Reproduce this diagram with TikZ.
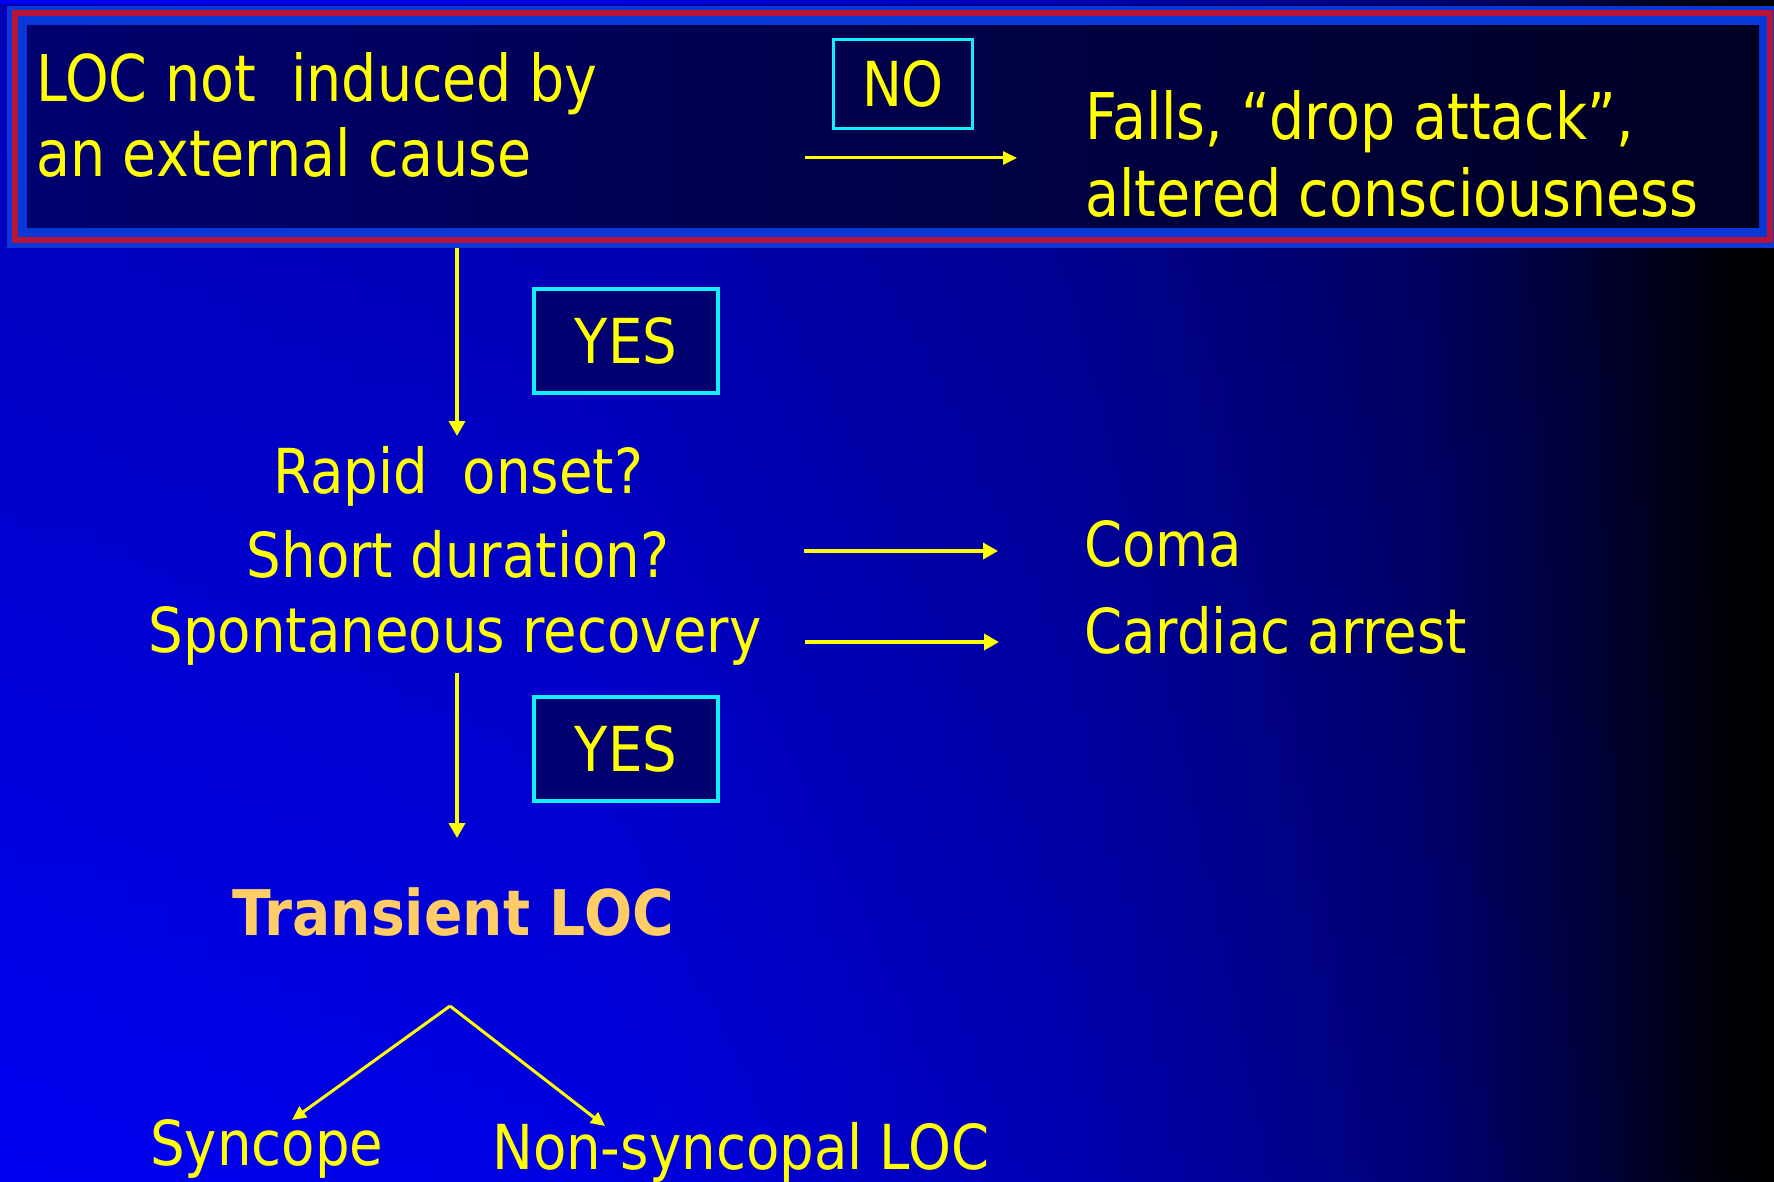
\documentclass[tikz,border=0pt]{standalone}
\usepackage{fontspec}
\usetikzlibrary{arrows.meta,fadings}
\newfontfamily\mainf[FakeStretch=0.88]{DejaVu Sans}
\newfontfamily\banf[FakeStretch=0.86]{DejaVu Sans}
\newfontfamily\boldf[FakeStretch=0.9]{DejaVu Sans}
\definecolor{ylw}{HTML}{FFFF00}
\definecolor{cyanbox}{HTML}{10F0FF}
\definecolor{orng}{HTML}{FFCC66}
\definecolor{bred}{HTML}{B81438}
\definecolor{glow}{HTML}{0838D8}
\definecolor{navyL}{HTML}{000070}
\definecolor{navyR}{HTML}{000024}
\definecolor{boxfill}{HTML}{000070}
\definecolor{bgA}{HTML}{0000F2}
\definecolor{bgB}{HTML}{0000E2}
\definecolor{bgC}{HTML}{0000B4}
\definecolor{bgD}{HTML}{000078}
\definecolor{bgE}{HTML}{00003C}
\definecolor{bgF}{HTML}{000010}
\pgfdeclarehorizontalshading{bgh}{100bp}{color(0bp)=(bgA); color(25bp)=(bgA); color(42bp)=(bgB); color(55bp)=(bgC); color(65bp)=(bgD); color(70bp)=(bgE); color(73bp)=(bgF); color(75bp)=(black); color(100bp)=(black)}
\tikzfading[name=topdark, top color=transparent!0, bottom color=transparent!100]
\tikzset{
  txt/.style={text=ylw, inner sep=0pt, font={\mainf\fontsize{62}{70}\selectfont}},
  bantxt/.style={text=ylw, inner sep=0pt, font={\banf\fontsize{64.5}{75}\selectfont}},
  arr/.style={draw=ylw, line width=3.5pt, -{Triangle[length=15pt,width=16pt]}},
  thinarr/.style={draw=ylw, line width=3pt, -{Triangle[length=14pt,width=13pt]}},
  yesbox/.style={draw=cyanbox, line width=4pt, fill=boxfill, inner sep=0pt,
     minimum width=184pt, minimum height=104pt, text=ylw, font={\mainf\fontsize{62}{70}\selectfont}},
}
\begin{document}
\begin{tikzpicture}[x=1pt,y=-1pt]
\useasboundingbox (0,0) rectangle (1774,1182);
% background
\shade[shading=bgh] (0,0) rectangle (1774,1182);
\fill[black, fill opacity=0.25, path fading=topdark] (0,0) rectangle (1774,1182);
% banner
\fill[glow] (7,6) rectangle (1774,248);
\shade[left color=navyL, right color=navyR] (27,26) rectangle (1759,228);
\node[draw=bred, line width=6pt, minimum width=1755pt, minimum height=227pt, inner sep=0pt] (banner) at (892.5,126.5) {};
\node[bantxt, anchor=base west] (loc1) at (36,102) {LOC not\ \ induced by};
\node[bantxt, anchor=base west] (loc2) at (36,177) {an external cause};
\node[draw=cyanbox, line width=3pt, inner sep=0pt, minimum width=139pt, minimum height=89pt,
      text=ylw, font={\banf\fontsize{62}{75}\selectfont}] (no) at (903,84) {NO};
\node[bantxt, anchor=base west] (falls1) at (1085,140) {Falls, “drop attack”,};
\node[bantxt, anchor=base west] (falls2) at (1085,217) {altered consciousness};
\coordinate (nos) at (805,158);
\coordinate (noe) at (1017,158);
\draw[thinarr] (nos) -- (noe);
% first yes
\coordinate (d1s) at (457,248);
\coordinate (d1e) at (457,436);
\draw[arr] (d1s) -- (d1e);
\node[yesbox] (yes1) at (626,341) {YES};
% questions
\node[txt, anchor=base] (rapid) at (458.5,493) {Rapid\ \ onset?};
\node[txt, anchor=base] (short) at (458,577) {Short duration?};
\node[txt, anchor=base] (spont) at (455,652) {Spontaneous recovery};
% right side
\node[txt, anchor=base west] (coma) at (1084,566) {Coma};
\node[txt, anchor=base west] (cardiac) at (1084,653) {Cardiac arrest};
\coordinate (c1s) at (804,551);
\coordinate (c1e) at (998,551);
\coordinate (c2s) at (805,642);
\coordinate (c2e) at (999,642);
\draw[arr] (c1s) -- (c1e);
\draw[arr] (c2s) -- (c2e);
% second yes
\coordinate (d2s) at (457,673);
\coordinate (d2e) at (457,838);
\draw[arr] (d2s) -- (d2e);
\node[yesbox] (yes2) at (626,749) {YES};
% transient
\node[text=orng, inner sep=0pt, anchor=base, font={\boldf\bfseries\fontsize{63}{70}\selectfont}] (tloc) at (453,935) {Transient LOC};
% branches
\coordinate (apex) at (450,1006);
\coordinate (bl) at (292,1120);
\coordinate (br) at (605,1126);
\draw[thinarr] (apex) -- (bl);
\draw[thinarr] (apex) -- (br);
\node[txt, anchor=base west] (sync) at (150,1165) {Syncope};
\node[txt, anchor=base west] (nonsync) at (492,1169) {Non-syncopal LOC};
\end{tikzpicture}
\end{document}
